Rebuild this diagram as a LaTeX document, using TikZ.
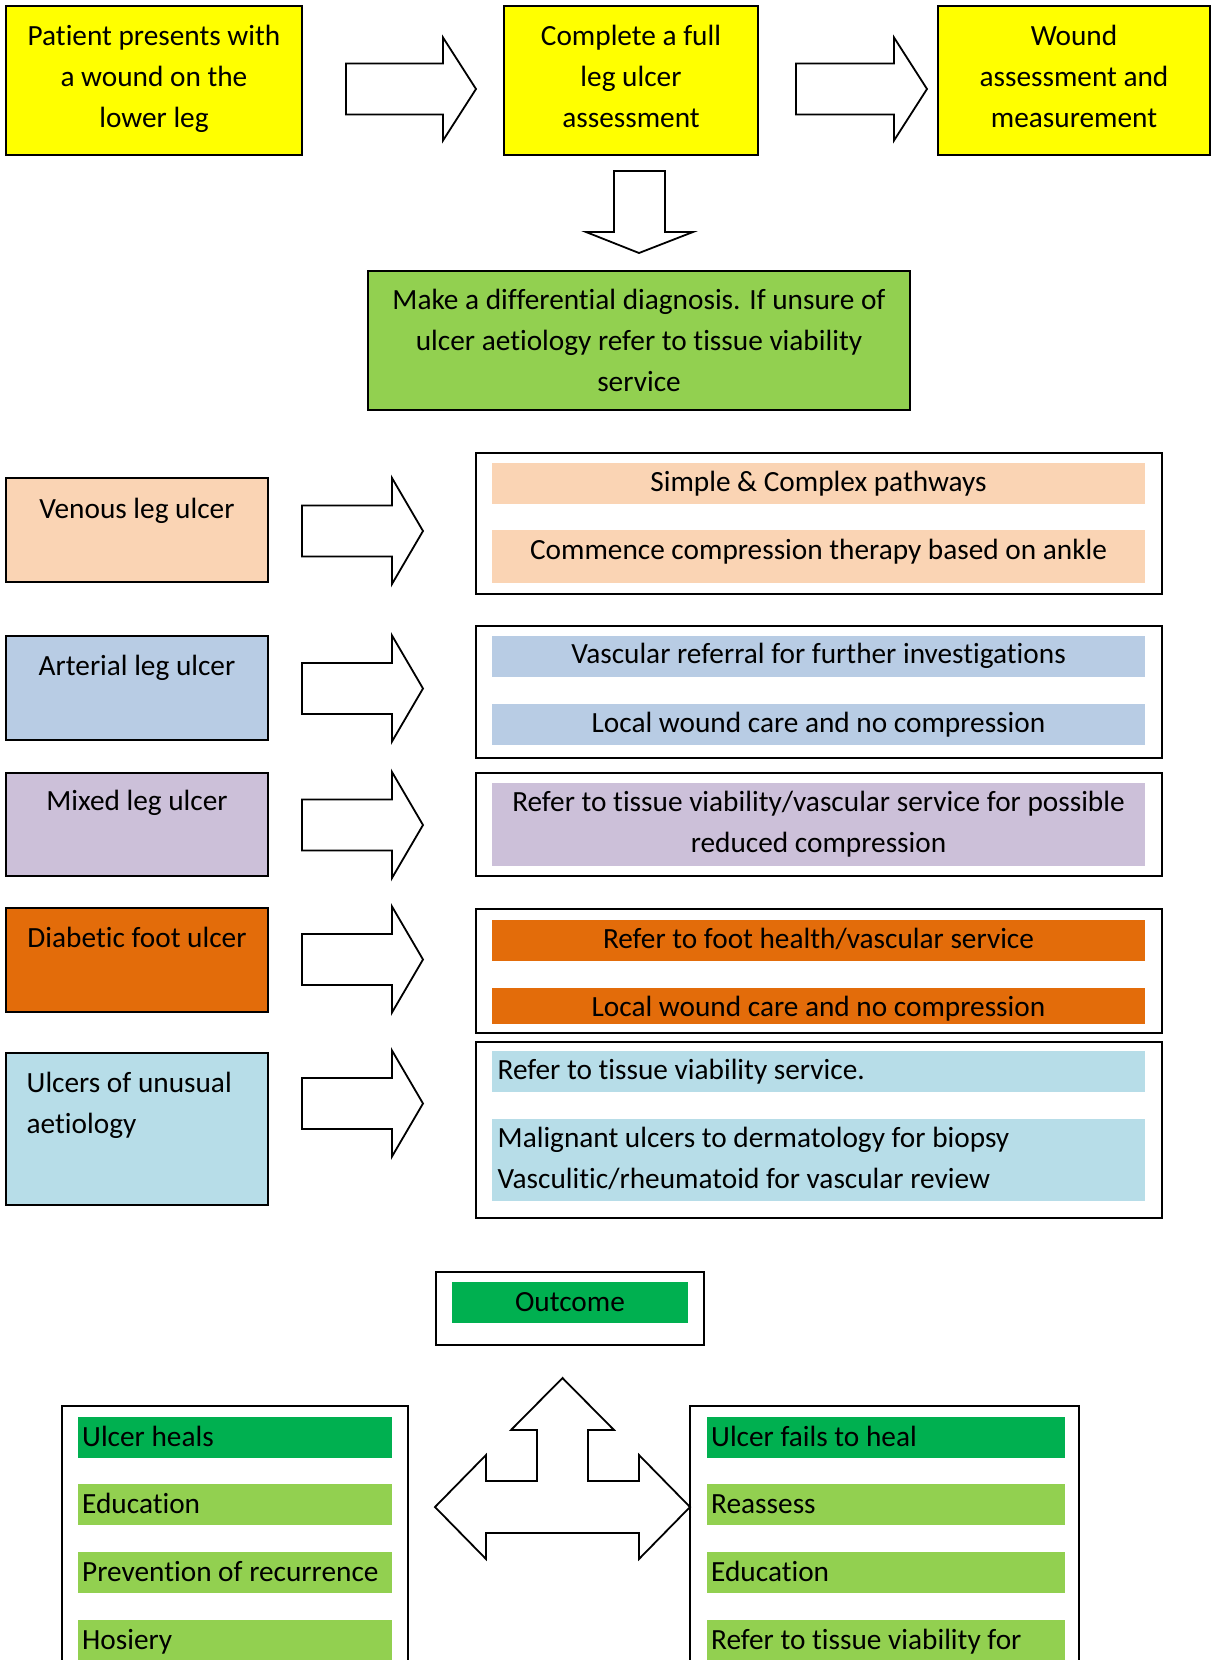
\documentclass[tikz,border=0pt]{standalone}
\usepackage{fontspec}
\setmainfont[Ligatures={NoCommon}]{Carlito}
\definecolor{yel}{HTML}{FFFF00}
\definecolor{lgreen}{HTML}{92D050}
\definecolor{dgreen}{HTML}{00B050}
\definecolor{peach}{HTML}{FAD4B4}
\definecolor{lblue}{HTML}{B8CCE4}
\definecolor{lpurple}{HTML}{CCC0D9}
\definecolor{dorange}{HTML}{E36C0A}
\definecolor{aqua}{HTML}{B7DDE8}
\newcommand\fz{\fontsize{29.3}{40.8}\selectfont}
\newcommand\rarrow[6]{\draw[blk] (#1,#2-#5) -- (#1+#4,#2-#5) -- (#1+#4,#2-#6) -- (#1+#3,#2) -- (#1+#4,#2+#6) -- (#1+#4,#2+#5) -- (#1,#2+#5) -- cycle;}
\begin{document}
\begin{tikzpicture}[x=1pt,y=-1pt,
  box/.style={draw, line width=1.8pt, inner sep=0, rectangle},
  strip/.style={fill=#1, inner sep=0, rectangle},
  lbl/.style={inner sep=0, anchor=base, font=\fz},
  lbll/.style={inner sep=0, anchor=base west, font=\fz},
  blk/.style={draw, line width=1.8pt, fill=white, line join=miter}]
\useasboundingbox (0,0) rectangle (1213,1660);
% top row
\node[box, fill=yel, minimum width=296pt, minimum height=149pt] (b1) at (154,80.5) {};
\node[box, fill=yel, minimum width=254pt, minimum height=149pt] (b2) at (631,80.5) {};
\node[box, fill=yel, minimum width=272pt, minimum height=149pt] (b3) at (1074,80.5) {};
\node[lbl] (t1) at (154,45.5) {\parbox[t]{300pt}{\centering Patient presents with\\ a wound on the\\ lower leg}};
\node[lbl] (t2) at (631,45.5) {\parbox[t]{300pt}{\centering Complete a full\\ leg ulcer\\ assessment}};
\node[lbl] (t3) at (1074,45.5) {\parbox[t]{300pt}{\centering Wound\\ assessment and\\ measurement}};
\rarrow{346}{89}{130}{97}{25.5}{51.5}
\rarrow{796}{89}{131}{98}{25.5}{51.5}
% down arrow
\draw[blk] (614,171) -- (665,171) -- (665,232) -- (693,232) -- (639,253) -- (586,232) -- (614,232) -- cycle;
% diagnosis
\node[box, fill=lgreen, minimum width=542pt, minimum height=139pt] (dx) at (639,340.5) {};
\node[lbl] (tdx) at (639,309.5) {\parbox[t]{600pt}{\centering Make a differential diagnosis. If unsure of\\ ulcer aetiology refer to tissue viability\\ service}};
% left boxes
\node[box, fill=peach, minimum width=262pt, minimum height=104pt] (lv) at (137,530) {};
\node[box, fill=lblue, minimum width=262pt, minimum height=104pt] (la) at (137,688) {};
\node[box, fill=lpurple, minimum width=262pt, minimum height=103pt] (lm) at (137,824.5) {};
\node[box, fill=dorange, minimum width=262pt, minimum height=104pt] (ld) at (137,960) {};
\node[box, fill=aqua, minimum width=262pt, minimum height=152pt] (lu) at (137,1129) {};
\node[lbl] (tlv) at (137,518.5) {Venous leg ulcer};
\node[lbl] (tla) at (137,675.5) {Arterial leg ulcer};
\node[lbl] (tlm) at (137,810.5) {Mixed leg ulcer};
\node[lbl] (tld) at (137,947.5) {Diabetic foot ulcer};
\node[lbll] (tlu) at (26.5,1092.5) {\parbox[t]{240pt}{\raggedright Ulcers of unusual\\ aetiology}};
% middle arrows
\rarrow{302}{531}{121}{90}{25.5}{53}
\rarrow{302}{688.5}{121}{90}{25.5}{53}
\rarrow{302}{825}{121}{90}{25.5}{53}
\rarrow{302}{959.5}{121}{90}{25.5}{53}
\rarrow{302}{1103.5}{121}{90}{25.5}{53}
% right boxes
\node[box, minimum width=686pt, minimum height=141pt] (rv) at (819,523.5) {};
\node[box, minimum width=686pt, minimum height=132pt] (ra) at (819,692) {};
\node[box, minimum width=686pt, minimum height=103pt] (rm) at (819,824.5) {};
\node[box, minimum width=686pt, minimum height=124pt] (rd) at (819,971) {};
\node[box, minimum width=686pt, minimum height=176pt] (ru) at (819,1130) {};
% strips
\node[strip=peach, minimum width=653pt, minimum height=41pt] (sv1) at (818.5,483.5) {};
\node[strip=peach, minimum width=653pt, minimum height=53pt] (sv2) at (818.5,556.5) {};
\node[strip=lblue, minimum width=653pt, minimum height=41pt] (sa1) at (818.5,656.5) {};
\node[strip=lblue, minimum width=653pt, minimum height=41pt] (sa2) at (818.5,724.5) {};
\node[strip=lpurple, minimum width=653pt, minimum height=83pt] (sm1) at (818.5,824.5) {};
\node[strip=dorange, minimum width=653pt, minimum height=41pt] (sd1) at (818.5,940.5) {};
\node[strip=dorange, minimum width=653pt, minimum height=36pt] (sd2) at (818.5,1006) {};
\node[strip=aqua, minimum width=653pt, minimum height=41pt] (su1) at (818.5,1071.5) {};
\node[strip=aqua, minimum width=653pt, minimum height=82pt] (su2) at (818.5,1160) {};
\node[lbl] (tsv1) at (818.5,491.5) {Simple \& Complex pathways};
\node[lbl] (tsv2) at (818.5,559) {Commence compression therapy based on ankle};
\node[lbl] (tsa1) at (818.5,663.5) {Vascular referral for further investigations};
\node[lbl] (tsa2) at (818.5,732.5) {Local wound care and no compression};
\node[lbl] (tsm1) at (818.5,811.5) {\parbox[t]{650pt}{\centering Refer to tissue viability/vascular service for possible\\ reduced compression}};
\node[lbl] (tsd1) at (818.5,948.5) {Refer to foot health/vascular service};
\node[lbl] (tsd2) at (818.5,1016) {Local wound care and no compression};
\node[lbll] (tsu1) at (497.5,1079.5) {Refer to tissue viability service.};
\node[lbll] (tsu2) at (497.5,1147.5) {\parbox[t]{640pt}{\raggedright Malignant ulcers to dermatology for biopsy\\ Vasculitic/rheumatoid for vascular review}};
% outcome
\node[box, minimum width=268pt, minimum height=73pt] (oc) at (570,1308.5) {};
\node[strip=dgreen, minimum width=236pt, minimum height=41pt] (ocs) at (570,1302.5) {};
\node[lbl] (toc) at (570,1311.5) {Outcome};
% three-way arrow
\draw[blk] (562.5,1378) -- (614,1430) -- (588,1430) -- (588,1481) -- (639,1481) -- (639,1455) -- (690,1507) -- (639,1559) -- (639,1533) -- (486,1533) -- (486,1559) -- (435,1507) -- (486,1455) -- (486,1481) -- (537,1481) -- (537,1430) -- (511,1430) -- cycle;
% bottom boxes
\node[box, minimum width=346pt, minimum height=300pt] (bl) at (235,1556) {};
\node[box, minimum width=389pt, minimum height=300pt] (br) at (884.5,1556) {};
\node[strip=dgreen, minimum width=314pt, minimum height=41pt] (bl1) at (235,1437.5) {};
\node[strip=lgreen, minimum width=314pt, minimum height=41pt] (bl2) at (235,1504.5) {};
\node[strip=lgreen, minimum width=314pt, minimum height=41pt] (bl3) at (235,1572.5) {};
\node[strip=lgreen, minimum width=314pt, minimum height=60pt] (bl4) at (235,1650) {};
\node[strip=dgreen, minimum width=358pt, minimum height=41pt] (br1) at (886,1437.5) {};
\node[strip=lgreen, minimum width=358pt, minimum height=41pt] (br2) at (886,1504.5) {};
\node[strip=lgreen, minimum width=358pt, minimum height=41pt] (br3) at (886,1572.5) {};
\node[strip=lgreen, minimum width=358pt, minimum height=60pt] (br4) at (886,1650) {};
\node[lbll] (tbl1) at (82,1446) {Ulcer heals};
\node[lbll] (tbl2) at (82,1513) {Education};
\node[lbll] (tbl3) at (82,1581) {Prevention of recurrence};
\node[lbll] (tbl4) at (82,1649) {Hosiery};
\node[lbll] (tbr1) at (711,1446) {Ulcer fails to heal};
\node[lbll] (tbr2) at (711,1513) {Reassess};
\node[lbll] (tbr3) at (711,1581) {Education};
\node[lbll] (tbr4) at (711,1649) {Refer to tissue viability for};
\end{tikzpicture}
\end{document}
